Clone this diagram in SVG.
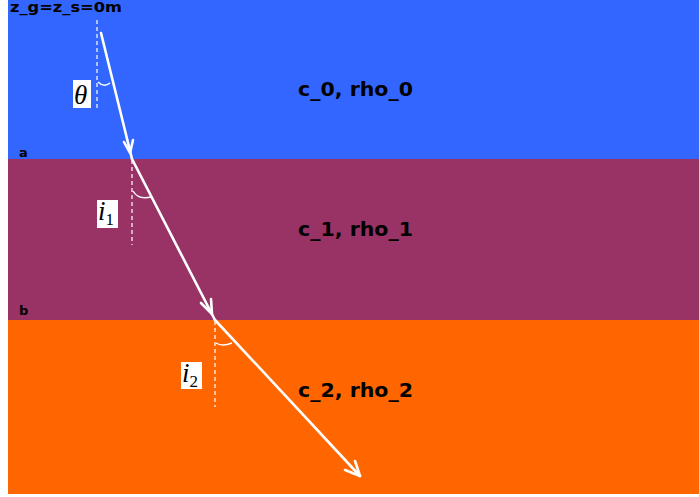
<svg xmlns="http://www.w3.org/2000/svg" width="699" height="497" viewBox="0 0 699 497">
<style>
.lbl{font-family:"DejaVu Sans",Verdana,sans-serif;font-weight:bold;fill:#000}
.ray{stroke:#fff;stroke-width:2.6;fill:none;stroke-linecap:round;stroke-linejoin:round}
.dash{stroke:#fff;stroke-width:1.2;stroke-dasharray:4,3;fill:none}
.arc{stroke:#fff;stroke-width:1.4;fill:none}
.box{fill:#fff}
.math{font-family:"Liberation Serif","Times New Roman",serif;font-style:italic;fill:#000}
</style>
<rect width="699" height="497" fill="#fff"/>
<g id="layer0"><rect x="8" y="0" width="691" height="159" fill="#3366ff"/><text class="lbl" x="298" y="96" font-size="19" textLength="115" lengthAdjust="spacingAndGlyphs">c_0, rho_0</text></g>
<g id="layer1"><rect x="8" y="159" width="691" height="161" fill="#993366"/><text class="lbl" x="298" y="236" font-size="19" textLength="115" lengthAdjust="spacingAndGlyphs">c_1, rho_1</text></g>
<g id="layer2"><rect x="8" y="320" width="691" height="174" fill="#ff6600"/><text class="lbl" x="298" y="397" font-size="19" textLength="115" lengthAdjust="spacingAndGlyphs">c_2, rho_2</text></g>
<g id="labels">
<text class="lbl" x="10" y="12" font-size="14" textLength="112" lengthAdjust="spacingAndGlyphs">z_g=z_s=0m</text>
<text class="lbl" x="19" y="157" font-size="13">a</text>
<text class="lbl" x="19" y="315" font-size="13">b</text>
</g>
<g id="normals">
<line class="dash" x1="97" y1="20" x2="97" y2="110"/>
<line class="dash" x1="132" y1="160" x2="132" y2="245"/>
<line class="dash" x1="215" y1="321" x2="215" y2="407"/>
</g>
<g id="angles">
<path class="arc" d="M98 82 Q104 88 110 83"/>
<path class="arc" d="M133 191 Q138 200 151 197"/>
<path class="arc" d="M216 343 Q222 347 232 343"/>
<rect class="box" x="73" y="80" width="18" height="28"/>
<text class="math" x="74" y="104" font-size="27">θ</text>
<rect class="box" x="97" y="200" width="21" height="28"/>
<text class="math" x="98" y="220" font-size="27">i<tspan font-style="normal" font-size="17" dy="5">1</tspan></text>
<rect class="box" x="181" y="362" width="21" height="27"/>
<text class="math" x="182" y="382" font-size="27">i<tspan font-style="normal" font-size="17" dy="5">2</tspan></text>
</g>
<g id="connectors">
<line class="ray" x1="101" y1="33" x2="132" y2="159"/>
<path class="ray" d="M124 142 L130 153 L133 140"/>
<line class="ray" x1="132" y1="159" x2="215" y2="320"/>
<path class="ray" d="M201 303 L212 314 L211 299"/>
<line class="ray" x1="215" y1="320" x2="360" y2="476"/>
<path class="ray" d="M345 470 L360 476 L355 461"/>
</g>
</svg>
